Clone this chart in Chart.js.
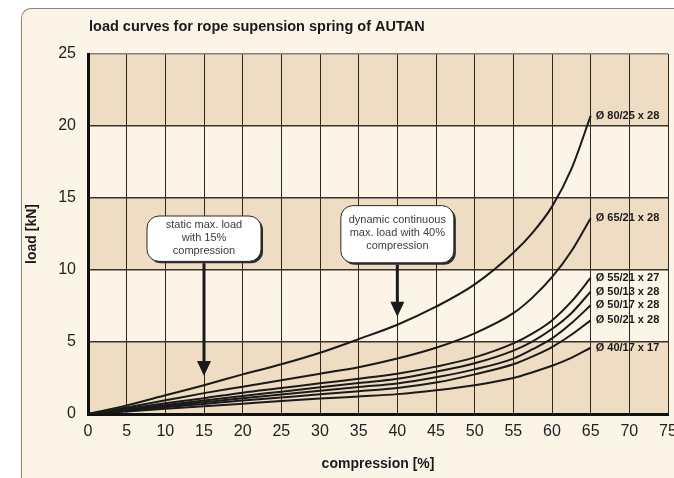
<!DOCTYPE html>
<html lang="en">
<head>
<meta charset="UTF-8">
<title>load curves for rope supension spring of AUTAN</title>
<script src="https://cdn.jsdelivr.net/npm/chart.js@4.4.1/dist/chart.umd.min.js"></script>
<style>
  html, body { margin: 0; padding: 0; background: #fff; overflow: hidden; }
  body { width: 674px; height: 478px; position: relative; }
  .panel {
    position: absolute; left: 21px; top: 8px; width: 720px; height: 520px;
    background: #fdf4e8;
    border-left: 1.5px solid #8a8580; border-top: 1.5px solid #8a8580;
    border-top-left-radius: 10px;
  }
  #wrap { position: absolute; left: 0; top: 0; width: 700px; height: 478px; }
</style>
</head>
<body>
<div class="panel"></div>
<div id="wrap"><canvas id="springChart" width="700" height="478"></canvas></div>

<script>
// compression in %, load in kN
var compression = [0, 5, 10, 15, 20, 25, 30, 35, 40, 45, 50, 55, 57.5, 60, 62.5, 65];

var load80_25 = [0, 0.6, 1.3, 2.0, 2.75, 3.45, 4.25, 5.2, 6.2, 7.45, 9.0, 11.2, 12.6, 14.4, 17.0, 20.7];
var load65_21 = [0, 0.45, 0.95, 1.45, 1.9, 2.35, 2.8, 3.25, 3.85, 4.6, 5.6, 7.0, 8.1, 9.5, 11.3, 13.6];
var load55_21 = [0, 0.37, 0.74, 1.1, 1.48, 1.8, 2.13, 2.45, 2.8, 3.29, 3.93, 4.9, 5.6, 6.5, 7.8, 9.45];
var load50_13 = [0, 0.31, 0.62, 0.94, 1.25, 1.55, 1.85, 2.15, 2.45, 2.94, 3.52, 4.4, 5.05, 5.9, 7.0, 8.5];
var load50_17 = [0, 0.27, 0.55, 0.82, 1.09, 1.36, 1.62, 1.88, 2.12, 2.55, 3.1, 3.85, 4.5, 5.25, 6.3, 7.55];
var load50_21 = [0, 0.23, 0.47, 0.7, 0.93, 1.15, 1.37, 1.58, 1.8, 2.18, 2.75, 3.45, 4.0, 4.65, 5.5, 6.5];
var load40_17 = [0, 0.18, 0.36, 0.54, 0.72, 0.9, 1.07, 1.22, 1.38, 1.65, 2.0, 2.5, 2.9, 3.35, 3.9, 4.6];

var springNames = ['Ø 80/25 x 28', 'Ø 65/21 x 28', 'Ø 55/21 x 27', 'Ø 50/13 x 28',
                   'Ø 50/17 x 28', 'Ø 50/21 x 28', 'Ø 40/17 x 17'];
var springLoads = [load80_25, load65_21, load55_21, load50_13, load50_17, load50_21, load40_17];

var xTicks = [0, 5, 10, 15, 20, 25, 30, 35, 40, 45, 50, 55, 60, 65, 70, 75];
var yTicks = [0, 5, 10, 15, 20, 25];

var chartTitle = 'load curves for rope supension spring of AUTAN';

var notes = [
    { at: 15, top: 13.75, bottom: 10.6, width: 114, tip: 2.64,
      lines: ['static max. load', 'with 15%', 'compression'] },
    { at: 40, top: 14.47, bottom: 10.5, width: 113, tip: 6.76,
      lines: ['dynamic continuous', 'max. load with 40%', 'compression'] }
];

var ink = '#1a1a1a';

// alternating tan / cream bands behind the grid
var bandPlugin = {
    id: 'bands',
    beforeDraw: function (chart) {
        var ctx = chart.ctx, a = chart.chartArea, y = chart.scales.y;
        ctx.save();
        ctx.fillStyle = '#fdf4e8';
        ctx.fillRect(a.left, a.top, a.right - a.left, a.bottom - a.top);
        ctx.fillStyle = '#eedcc3';
        [[0, 5], [10, 15], [20, 25]].forEach(function (b) {
            var y0 = y.getPixelForValue(b[1]), y1 = y.getPixelForValue(b[0]);
            ctx.fillRect(a.left, y0, a.right - a.left, y1 - y0);
        });
        ctx.restore();
    }
};

function roundBox(ctx, x, y, w, h, r) {
    ctx.beginPath();
    ctx.moveTo(x + r, y);
    ctx.arcTo(x + w, y, x + w, y + h, r);
    ctx.arcTo(x + w, y + h, x, y + h, r);
    ctx.arcTo(x, y + h, x, y, r);
    ctx.arcTo(x, y, x + w, y, r);
    ctx.closePath();
}

// curve names, note boxes with arrows, chart heading
var extrasPlugin = {
    id: 'extras',
    afterDatasetsDraw: function (chart) {
        var ctx = chart.ctx, xs = chart.scales.x, ys = chart.scales.y;
        ctx.save();

        ctx.fillStyle = ink;
        ctx.font = 'bold 11px "Liberation Sans", Arial, sans-serif';
        ctx.textAlign = 'left';
        ctx.textBaseline = 'middle';
        chart.data.datasets.forEach(function (ds) {
            var last = ds.data[ds.data.length - 1];
            ctx.fillText(ds.label, xs.getPixelForValue(last.x) + 5, ys.getPixelForValue(last.y));
        });

        notes.forEach(function (n) {
            var cx = xs.getPixelForValue(n.at);
            var top = ys.getPixelForValue(n.top), bot = ys.getPixelForValue(n.bottom);
            var left = cx - n.width / 2, h = bot - top;

            ctx.fillStyle = '#2a2a2a';
            roundBox(ctx, left + 2, top + 2, n.width, h, 12);
            ctx.fill();
            ctx.fillStyle = '#ffffff';
            roundBox(ctx, left, top, n.width, h, 12);
            ctx.fill();
            ctx.strokeStyle = '#2a2a2a';
            ctx.lineWidth = 1;
            ctx.stroke();

            ctx.fillStyle = '#3c3c3c';
            ctx.font = '11px "Liberation Sans", Arial, sans-serif';
            ctx.textAlign = 'center';
            var mid = top + h / 2 - 1;
            n.lines.forEach(function (t, i) {
                ctx.fillText(t, cx, mid + (i - 1) * 12.8);
            });

            var tipY = ys.getPixelForValue(n.tip);
            ctx.strokeStyle = ink;
            ctx.lineWidth = 3;
            ctx.beginPath();
            ctx.moveTo(cx, bot + 2);
            ctx.lineTo(cx, tipY - 12);
            ctx.stroke();
            ctx.fillStyle = ink;
            ctx.beginPath();
            ctx.moveTo(cx - 7, tipY - 15);
            ctx.lineTo(cx + 7, tipY - 15);
            ctx.lineTo(cx, tipY);
            ctx.closePath();
            ctx.fill();
        });

        ctx.fillStyle = ink;
        ctx.font = 'bold 14.5px "Liberation Sans", Arial, sans-serif';
        ctx.textAlign = 'left';
        ctx.fillText(chartTitle, chart.chartArea.left + 1, 27);
        ctx.restore();
    }
};

var datasets = springLoads.map(function (loads, i) {
    return {
        label: springNames[i],
        data: compression.map(function (c, j) { return { x: c, y: loads[j] }; }),
        borderColor: ink,
        borderWidth: 2,
        pointRadius: 0,
        fill: false,
        cubicInterpolationMode: 'monotone'
    };
});

var tickFont = { family: '"Liberation Sans Narrow", "Liberation Sans", sans-serif', size: 16 };
var titleFont = { family: '"Liberation Sans", Arial, sans-serif', size: 14, weight: 'bold' };

new Chart(document.getElementById('springChart'), {
    type: 'line',
    data: { datasets: datasets },
    options: {
        responsive: false,
        animation: false,
        events: [],
        layout: { padding: { left: 22, top: 54, right: 32, bottom: 0 } },
        plugins: { legend: { display: false }, tooltip: { enabled: false } },
        scales: {
            x: {
                type: 'linear', min: 0, max: 75,
                afterBuildTicks: function (s) { s.ticks = xTicks.map(function (v) { return { value: v }; }); },
                afterFit: function (s) { s.height = 64; },
                ticks: { color: '#222', font: tickFont, padding: 8, maxRotation: 0, autoSkip: false },
                grid: { color: '#2e2620', lineWidth: 1, drawTicks: false },
                border: { color: '#111', width: 3 },
                title: { display: true, text: 'compression [%]', color: ink, font: titleFont,
                         padding: { top: 0, bottom: 5 } }
            },
            y: {
                type: 'linear', min: 0, max: 25,
                afterBuildTicks: function (s) { s.ticks = yTicks.map(function (v) { return { value: v }; }); },
                afterFit: function (s) { s.width = 66; },
                ticks: { color: '#222', font: tickFont, padding: 12 },
                grid: {
                    drawTicks: false,
                    color: function (c) { return c.tick && c.tick.value === 25 ? '#8a8075' : '#3a3028'; },
                    lineWidth: 1.5
                },
                border: { color: '#111', width: 3 },
                title: { display: true, text: 'load [kN]', color: ink, font: titleFont,
                         padding: { top: 2, bottom: 0 } }
            }
        }
    },
    plugins: [bandPlugin, extrasPlugin]
});
</script>
</body>
</html>
